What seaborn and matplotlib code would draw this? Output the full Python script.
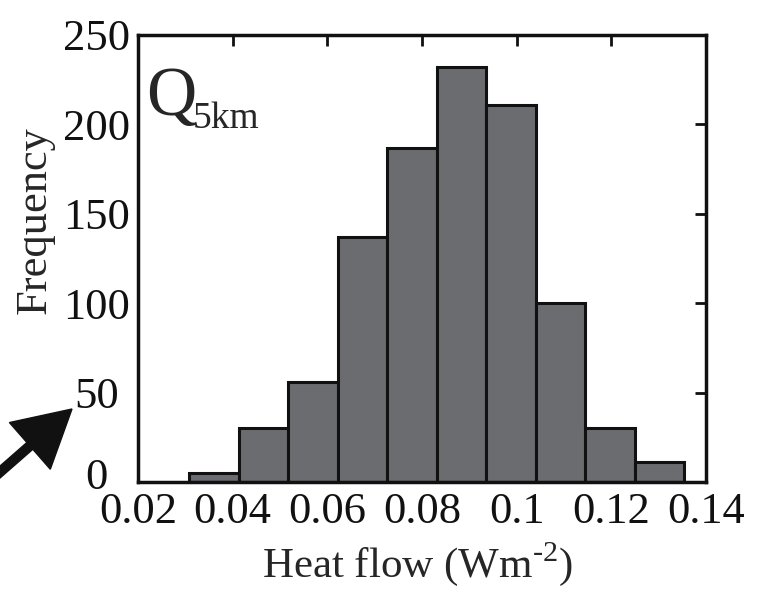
import numpy as np
import pandas as pd
import matplotlib
matplotlib.use("Agg")
import matplotlib.pyplot as plt
import matplotlib.transforms as mtransforms
import seaborn as sns

# Data
bin_start = 0.0308
bin_width = 0.01046
counts = [5, 30, 56, 137, 187, 232, 211, 100, 30, 11]
x_ticks = [0.02, 0.04, 0.06, 0.08, 0.1, 0.12, 0.14]
x_tick_labels = ["0.02", "0.04", "0.06", "0.08", "0.1", "0.12", "0.14"]
y_ticks = [0, 50, 100, 150, 200, 250]

edges = bin_start + bin_width * np.arange(len(counts) + 1)
centers = (edges[:-1] + edges[1:]) / 2
df = pd.DataFrame({"heat": centers, "n": counts})

sns.set_style("white")
plt.rcParams["font.family"] = ["Liberation Serif", "DejaVu Serif"]
plt.rcParams["mathtext.fontset"] = "custom"
plt.rcParams["mathtext.rm"] = "Liberation Serif"

fig = plt.figure(figsize=(7.67, 5.92), dpi=100)
ax = fig.add_axes([0.18, 0.1858, 0.7405, 0.7551])

sns.histplot(data=df, x="heat", weights="n", bins=len(counts),
             binrange=(float(edges[0]), float(edges[-1])), ax=ax,
             color="#6b6c70", edgecolor="#111111", linewidth=2.2, alpha=1.0)

ax.set_xlim(0.02, 0.14)
ax.set_ylim(0, 250)
ax.set_xticks(x_ticks)
ax.set_xticklabels(x_tick_labels)
ax.set_yticks(y_ticks)
ax.tick_params(direction="in", length=8, width=2, labelsize=32,
               top=True, right=True, colors="#111111")
ax.tick_params(axis="x", pad=7)
ax.tick_params(axis="y", pad=30)
for lab in ax.get_yticklabels():
    lab.set_horizontalalignment("center")
# the "0" label sits a little higher in the reference
t0 = ax.yaxis.get_major_ticks()[0].label1
t0.set_transform(t0.get_transform() + mtransforms.ScaledTranslation(0, 6 / 72, fig.dpi_scale_trans))

for s in ax.spines.values():
    s.set_linewidth(2.5)
    s.set_color("#111111")
    s.set_visible(True)

ax.set_xlabel(r"Heat flow (Wm$^{\text{-2}}$)", fontsize=31, va="top")
ax.xaxis.set_label_coords(0.492, -0.13)
ax.set_ylabel("Frequency", fontsize=32)
ax.yaxis.set_label_coords(-0.146, 0.586)

ax.text(0.014, 0.821, "Q", transform=ax.transAxes, fontsize=50, va="baseline", ha="left")
ax.text(0.097, 0.792, "5km", transform=ax.transAxes, fontsize=27, va="baseline", ha="left")

# Arrow in lower-left corner (inches, from the figure's lower-left)
fig.patches.append(matplotlib.patches.FancyArrow(
    -0.107, 1.106, 0.827, 0.724, width=0.09,
    head_width=0.62, head_length=0.56, length_includes_head=True,
    transform=fig.dpi_scale_trans, color="#111111", figure=fig))

fig.savefig("out.png", dpi=100)
